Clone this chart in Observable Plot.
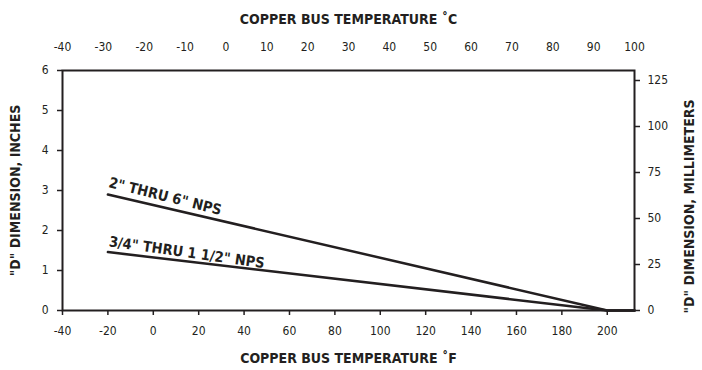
<!DOCTYPE html>
<html><head><meta charset="utf-8">
<script src="https://cdn.jsdelivr.net/npm/d3@7"></script>
<script src="https://cdn.jsdelivr.net/npm/@observablehq/plot@0.6"></script>
<style>
body{margin:0;background:#fff;}
svg{font-family:"Liberation Sans Narrow","DejaVu Sans Condensed",sans-serif;}
</style>
</head><body><div id="chart"></div>
<script>
// Data
const tempF_big = [-20, 200, 212];
const dimIn_big = [2.9, 0, 0];
const tempF_small = [-20, 200, 212];
const dimIn_small = [1.46, 0, 0];
const fTicks = [-40, -20, 0, 20, 40, 60, 80, 100, 120, 140, 160, 180, 200];
const cTicks = [-40, -30, -20, -10, 0, 10, 20, 30, 40, 50, 60, 70, 80, 90, 100];
const inTicks = [0, 1, 2, 3, 4, 5, 6];
const mmTicks = [0, 25, 50, 75, 100, 125];
const mmScale = 0.046; // inches on chart per mm-tick (as drawn in the reference)
const labels = ["2\" THRU 6\" NPS", "3/4\" THRU 1 1/2\" NPS"];
const labelPos = [{x: -19.5, y: 3.2, r: 14}, {x: -19.5, y: 1.72, r: 8}];
const titleC = "COPPER BUS TEMPERATURE ˚C";
const titleF = "COPPER BUS TEMPERATURE ˚F";
const titleIn = "\"D\" DIMENSION, INCHES";
const titleMm = "\"D\" DIMENSION, MILLIMETERS";

const big = tempF_big.map((t, i) => ({t, d: dimIn_big[i]}));
const small = tempF_small.map((t, i) => ({t, d: dimIn_small[i]}));
const ann = labels.map((s, i) => ({s, ...labelPos[i]}));

const ink = "#231f20";
const chart = Plot.plot({
  width: 702, height: 370,
  marginLeft: 62, marginRight: 68, marginTop: 70, marginBottom: 60,
  x: {domain: [-40, 212]},
  y: {domain: [0, 6]},
  style: {fontSize: "12px", color: ink},
  marks: [
    Plot.frame({stroke: ink, strokeWidth: 2}),
    Plot.axisX(fTicks, {anchor: "bottom", tickSize: 5, tickPadding: 11, strokeWidth: 1.5, tickFormat: d => String(d),
      label: titleF, labelAnchor: "center", labelOffset: 52, labelArrow: false, fontSize: 12}),
    Plot.axisX(cTicks.map(c => c * 1.8 + 32), {anchor: "top", tickSize: 0, tickPadding: 20, tickFormat: f => String(Math.round((f - 32) / 1.8)),
      label: titleC, labelAnchor: "center", labelOffset: 56, labelArrow: false, fontSize: 12}),
    Plot.axisY(inTicks, {anchor: "left", tickSize: 5, tickPadding: 9, strokeWidth: 1.5, tickFormat: d => String(d),
      label: titleIn, labelAnchor: "center", labelOffset: 52, labelArrow: false, fontSize: 12}),
    Plot.axisY(mmTicks.map(m => m * mmScale), {anchor: "right", tickSize: 5, tickPadding: 8, strokeWidth: 1.5, tickFormat: v => String(Math.round(v / mmScale)),
      label: titleMm, labelAnchor: "center", labelOffset: 59, labelArrow: false, fontSize: 12}),
    Plot.line(big, {x: "t", y: "d", stroke: ink, strokeWidth: 2.5}),
    Plot.line(small, {x: "t", y: "d", stroke: ink, strokeWidth: 2.5}),
    Plot.text(ann, {x: "x", y: "y", text: "s", rotate: "r", textAnchor: "start", fontWeight: "bold", fontSize: 14.5, fill: ink})
  ]
});
const axisLabels = chart.querySelectorAll('[aria-label$="axis label"]');
axisLabels.forEach(g => {
  g.setAttribute("font-weight", "bold");
  g.setAttribute("font-size", "14");
  g.querySelectorAll("text").forEach(t => { t.setAttribute("font-weight", "bold"); t.setAttribute("font-size", "14"); t.setAttribute("fill", ink); });
});
// shift the right-hand (millimetre) title slightly downward, as in the reference
const yLabels = chart.querySelectorAll('[aria-label="y-axis label"]');
if (yLabels.length > 1) {
  const g = yLabels[yLabels.length - 1];
  const tr = g.getAttribute("transform") || "";
  g.setAttribute("transform", "translate(0,16) " + tr);
}
document.getElementById("chart").appendChild(chart);
</script>
</body></html>
